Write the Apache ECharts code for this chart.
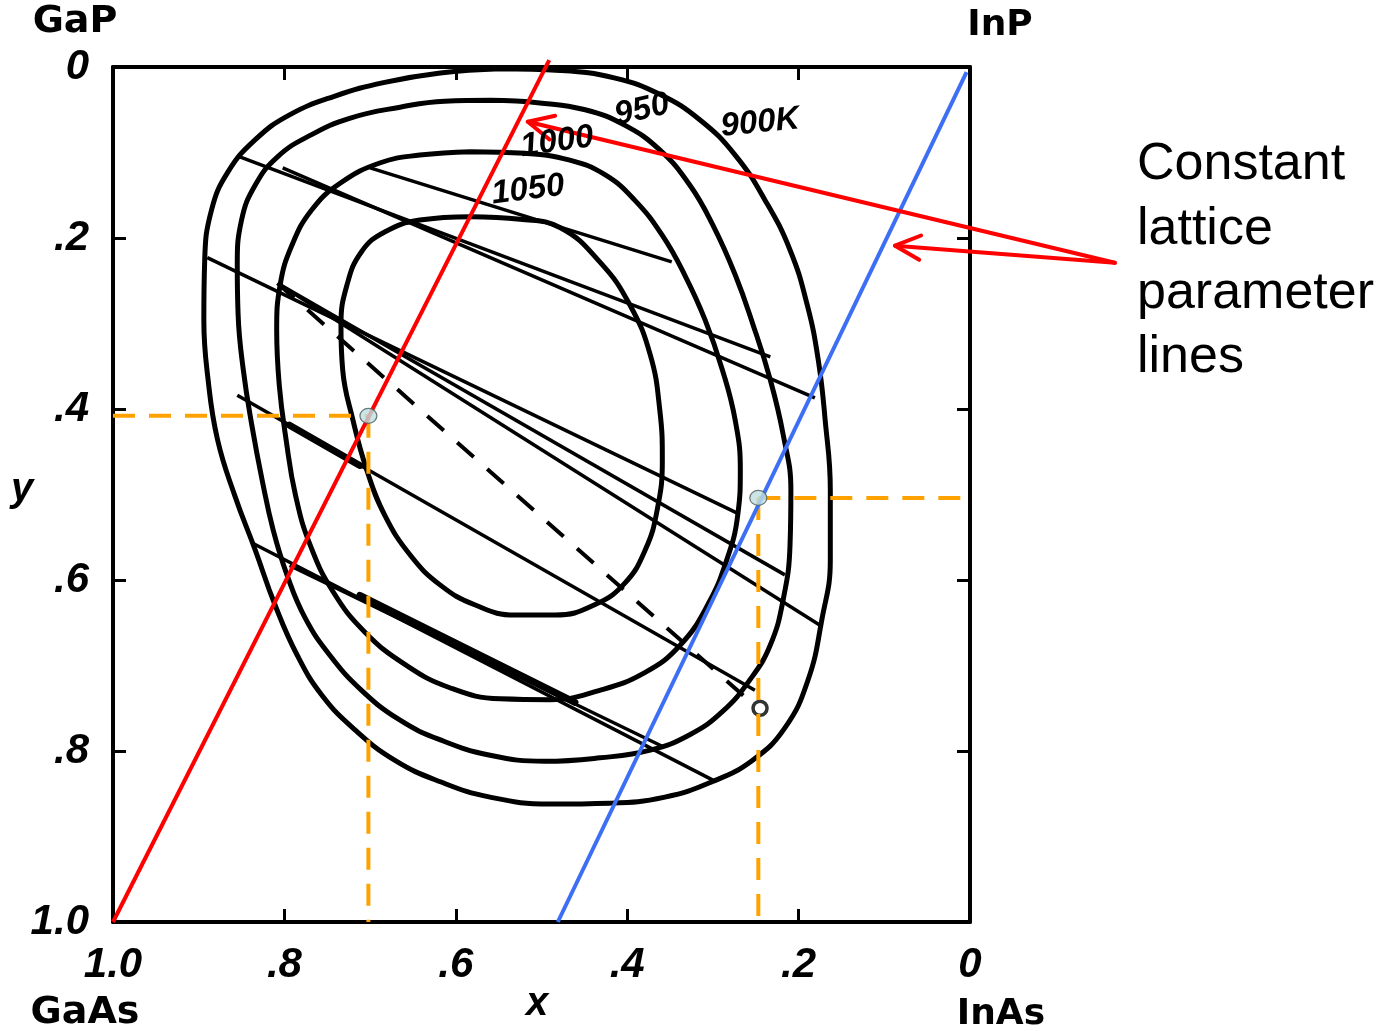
<!DOCTYPE html>
<html>
<head>
<meta charset="utf-8">
<script src="https://cdn.jsdelivr.net/npm/echarts/dist/echarts.min.js"></script>
<style>
html, body { margin: 0; padding: 0; background: #ffffff; }
#chart { width: 1397px; height: 1031px; }
</style>
</head>
<body>
<div id="chart"></div>
<script>
// Miscibility-gap isotherms of Ga(x)In(1-x)As(y)P(1-y); x = GaAs fraction, y = As fraction
const tickValues = [0, 0.2, 0.4, 0.6, 0.8, 1.0];
const tickLabels = ['0', '.2', '.4', '.6', '.8', '1.0'];

const isotherm900 = [
  [0.548,0.002],[0.478,0.004],[0.414,0.013],[0.362,0.032],[0.315,0.062],[0.274,0.103],[0.239,0.156],
  [0.210,0.214],[0.190,0.278],[0.177,0.343],[0.169,0.413],[0.163,0.495],[0.163,0.577],[0.173,0.647],
  [0.189,0.717],[0.216,0.773],[0.254,0.811],[0.301,0.836],[0.356,0.854],[0.420,0.861],[0.490,0.862],
  [0.560,0.854],[0.618,0.836],[0.671,0.811],[0.718,0.775],[0.756,0.735],[0.785,0.688],[0.811,0.629],
  [0.834,0.565],[0.858,0.501],[0.878,0.436],[0.889,0.366],[0.894,0.296],[0.893,0.226],[0.885,0.167],
  [0.866,0.123],[0.834,0.085],[0.794,0.056],[0.741,0.034],[0.683,0.018],[0.618,0.007],[0.548,0.002]
];
const isotherm950 = [
  [0.560,0.039],[0.502,0.042],[0.449,0.050],[0.403,0.068],[0.362,0.097],[0.327,0.138],[0.300,0.185],
  [0.274,0.243],[0.253,0.302],[0.233,0.366],[0.218,0.430],[0.209,0.495],[0.210,0.559],[0.218,0.623],
  [0.233,0.676],[0.257,0.717],[0.289,0.754],[0.327,0.781],[0.373,0.799],[0.432,0.808],[0.496,0.812],
  [0.560,0.805],[0.618,0.787],[0.665,0.764],[0.710,0.729],[0.747,0.688],[0.776,0.644],[0.797,0.594],
  [0.813,0.542],[0.826,0.483],[0.838,0.419],[0.848,0.354],[0.854,0.290],[0.855,0.232],[0.850,0.179],
  [0.834,0.138],[0.808,0.105],[0.770,0.080],[0.724,0.060],[0.665,0.047],[0.613,0.040],[0.560,0.039]
];
const isotherm1000 = [
  [0.583,0.099],[0.519,0.101],[0.467,0.109],[0.426,0.126],[0.391,0.156],[0.359,0.197],[0.333,0.243],
  [0.309,0.296],[0.289,0.354],[0.274,0.413],[0.268,0.471],[0.271,0.524],[0.284,0.577],[0.306,0.629],
  [0.338,0.676],[0.379,0.708],[0.432,0.729],[0.490,0.740],[0.548,0.739],[0.607,0.726],[0.659,0.699],
  [0.706,0.661],[0.743,0.614],[0.770,0.559],[0.787,0.501],[0.798,0.436],[0.806,0.372],[0.809,0.308],
  [0.805,0.255],[0.791,0.208],[0.768,0.167],[0.735,0.136],[0.688,0.112],[0.642,0.103],[0.583,0.099]
];
const isotherm1050 = [
  [0.583,0.175],[0.525,0.178],[0.478,0.188],[0.432,0.228],[0.397,0.278],[0.373,0.337],[0.362,0.401],
  [0.359,0.460],[0.365,0.518],[0.379,0.565],[0.403,0.604],[0.438,0.629],[0.484,0.641],[0.531,0.641],
  [0.578,0.629],[0.618,0.606],[0.653,0.571],[0.683,0.524],[0.704,0.471],[0.720,0.413],[0.732,0.354],
  [0.734,0.302],[0.727,0.255],[0.710,0.216],[0.683,0.193],[0.642,0.179],[0.583,0.175]
];

// Tie lines joining coexisting compositions
const tieLines = [
  [[0.852,0.105],[0.233,0.339]],
  [[0.802,0.118],[0.181,0.387]],
  [[0.700,0.118],[0.348,0.228]],
  [[0.890,0.223],[0.271,0.522]],
  [[0.808,0.253],[0.216,0.594]],
  [[0.808,0.253],[0.175,0.653]],
  [[0.855,0.384],[0.251,0.729]],
  [[0.837,0.557],[0.300,0.834]],
  [[0.794,0.583],[0.358,0.795]]
];
const heavyTieLines = [
  [[0.794,0.419],[0.712,0.466]],
  [[0.712,0.618],[0.461,0.743]]
];
const dashedTieLine = [[0.808,0.253],[0.249,0.749]];
const criticalPoint = [[0.245,0.750]];

// Constant lattice parameter lines
const latticeMatchedGaAs = [[1.0,1.0],[0.491,-0.008]];
const latticeMatchedInP = [[0.481,1.0],[0.004,0.006]];

// Chosen compositions on the lattice lines and their read-out guides
const chosenPoints = [[0.702,0.408],[0.247,0.504]];
const guideA_h = [[1.0,0.408],[0.702,0.408]];
const guideA_v = [[0.702,0.408],[0.702,1.0]];
const guideB_h = [[0.247,0.504],[0.0,0.504]];
const guideB_v = [[0.247,0.504],[0.247,1.0]];

// Callout arrows (tail, then tips) for the annotation text
const arrowTail = [-0.169, 0.229];
const arrowTips = [[0.516, 0.064], [0.0875, 0.209]];

const labelFont = '"Liberation Sans Narrow", "Liberation Sans", Arial, sans-serif';

const chart = echarts.init(document.getElementById('chart'), null, { renderer: 'canvas' });

function tickText(v) {
  const i = tickValues.findIndex(t => Math.abs(t - v) < 1e-6);
  return i >= 0 ? tickLabels[i] : '';
}

function lineSeries(data, opts) {
  return Object.assign({
    type: 'line',
    data: data,
    showSymbol: false,
    symbol: 'none',
    silent: true,
    animation: false,
    lineStyle: { color: '#000', width: 3 }
  }, opts);
}

const series = [];
[isotherm900, isotherm950, isotherm1000, isotherm1050].forEach(c => {
  series.push(lineSeries(c, { smooth: 0.45, lineStyle: { color: '#000', width: 5 }, z: 2 }));
});
tieLines.forEach(t => series.push(lineSeries(t, { lineStyle: { color: '#000', width: 3.5 }, z: 2 })));
heavyTieLines.forEach(t => series.push(lineSeries(t, { lineStyle: { color: '#000', width: 7, cap: 'round' }, z: 2 })));
series.push(lineSeries(dashedTieLine, { lineStyle: { color: '#000', width: 4, type: [22, 18] }, z: 2 }));
series.push({
  type: 'scatter', data: criticalPoint, symbol: 'circle', symbolSize: 14, silent: true, animation: false,
  itemStyle: { color: 'rgba(0,0,0,0)', borderColor: '#000', borderWidth: 3.5 }, z: 3
});
series.push(lineSeries(latticeMatchedGaAs, { clip: false, lineStyle: { color: '#ff0000', width: 4 }, z: 5 }));
series.push(lineSeries(latticeMatchedInP, { lineStyle: { color: '#3d6ff5', width: 4 }, z: 5 }));
[guideA_h, guideA_v, guideB_h, guideB_v].forEach(g => {
  series.push(lineSeries(g, { lineStyle: { color: '#ffa200', width: 4, type: [22, 14] }, z: 4 }));
});
series.push({
  type: 'scatter', data: chosenPoints, symbol: 'circle', symbolSize: [17, 15], silent: true, animation: false,
  itemStyle: { color: '#bfe0e2', borderColor: '#4a5a5a', borderWidth: 1.2 }, z: 6
});

const axisCommon = {
  type: 'value', min: 0, max: 1, interval: 0.2, inverse: true,
  splitLine: { show: false },
  axisLine: { show: true, onZero: false, lineStyle: { color: '#000', width: 4 } },
  axisTick: { show: true, inside: true, length: 13, lineStyle: { color: '#000', width: 3 } }
};

chart.setOption({
  animation: false,
  backgroundColor: '#ffffff',
  grid: { left: 113, top: 67, right: 427, bottom: 109, containLabel: false },
  xAxis: [
    Object.assign({}, axisCommon, {
      position: 'bottom',
      axisLabel: {
        show: true, margin: 22, formatter: tickText, color: '#000',
        fontFamily: labelFont, fontStyle: 'italic', fontWeight: 'bold', fontSize: 42
      }
    }),
    Object.assign({}, axisCommon, { position: 'top', axisLabel: { show: false } })
  ],
  yAxis: [
    Object.assign({}, axisCommon, {
      position: 'left',
      axisLabel: {
        show: true, margin: 24, formatter: tickText, color: '#000',
        fontFamily: labelFont, fontStyle: 'italic', fontWeight: 'bold', fontSize: 42
      }
    }),
    Object.assign({}, axisCommon, { position: 'right', axisLabel: { show: false } })
  ],
  series: series
});

// Text labels and callout arrows
const heavy = '"DejaVu Sans", "Liberation Sans", sans-serif';
function txt(text, x, y, font, extra) {
  return Object.assign({
    type: 'text', x: x, y: y, silent: true, z: 10,
    style: Object.assign({ text: text, fill: '#000', align: 'center', verticalAlign: 'middle' }, font)
  }, extra || {});
}
const elements = [
  txt('GaP', 75, 22, { font: 'bold 38px ' + heavy }),
  txt('InP', 1000, 26, { font: 'bold 36px ' + heavy }),
  txt('GaAs', 85, 1013, { font: 'bold 38px ' + heavy }),
  txt('InAs', 1001, 1015, { font: 'bold 36px ' + heavy }),
  txt('y', 22, 490, { font: 'italic bold 40px ' + labelFont }),
  txt('x', 537, 1004, { font: 'italic bold 40px ' + labelFont }),
  txt('950', 642, 110, { font: 'italic bold 33px ' + labelFont }, { rotation: 0.22 }),
  txt('900K', 760, 123, { font: 'italic bold 33px ' + labelFont }, { rotation: 0.1 }),
  txt('1000', 557, 142, { font: 'italic bold 33px ' + labelFont }, { rotation: 0.14 }),
  txt('1050', 528, 190, { font: 'italic bold 33px ' + labelFont }, { rotation: 0.12 }),
  txt('Constant', 1137, 165, { font: '52px "Liberation Sans", Arial, sans-serif', align: 'left' }),
  txt('lattice', 1137, 230, { font: '52px "Liberation Sans", Arial, sans-serif', align: 'left' }),
  txt('parameter', 1137, 294, { font: '52px "Liberation Sans", Arial, sans-serif', align: 'left' }),
  txt('lines', 1137, 358, { font: '52px "Liberation Sans", Arial, sans-serif', align: 'left' })
];

const tail = chart.convertToPixel({ xAxisIndex: 0, yAxisIndex: 0 }, arrowTail);
arrowTips.forEach(tipData => {
  const tip = chart.convertToPixel({ xAxisIndex: 0, yAxisIndex: 0 }, tipData);
  const ang = Math.atan2(tail[1] - tip[1], tail[0] - tip[0]);
  const len = 28, spread = 0.45;
  const h1 = [tip[0] + len * Math.cos(ang + spread), tip[1] + len * Math.sin(ang + spread)];
  const h2 = [tip[0] + len * Math.cos(ang - spread), tip[1] + len * Math.sin(ang - spread)];
  const st = { stroke: '#ff0000', lineWidth: 4, lineCap: 'round', lineJoin: 'round', fill: null };
  elements.push({ type: 'polyline', silent: true, z: 9, shape: { points: [tail, tip] }, style: st });
  elements.push({ type: 'polyline', silent: true, z: 9, shape: { points: [h1, tip, h2] }, style: st });
});

chart.setOption({ graphic: { elements: elements } });
</script>
</body>
</html>
